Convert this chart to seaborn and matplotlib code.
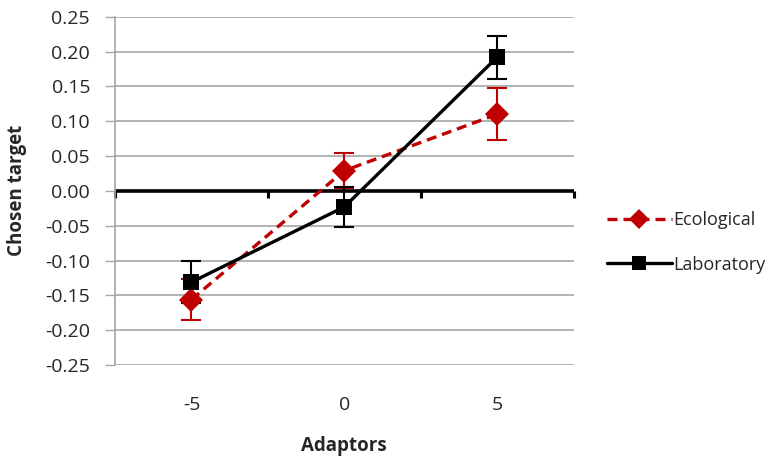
import numpy as np
import pandas as pd
import matplotlib
matplotlib.use('Agg')
import matplotlib.pyplot as plt
from matplotlib.lines import Line2D
import seaborn as sns

sns.set_style("white")
plt.rcParams['font.family'] = ['Open Sans', 'DejaVu Sans']

# values
adaptors = [-5, 0, 5]
ecological = [-0.156, 0.029, 0.110]
ecological_err = [0.030, 0.025, 0.037]
laboratory = [-0.131, -0.023, 0.192]
laboratory_err = [0.030, 0.029, 0.031]
yticks = [-0.25, -0.20, -0.15, -0.10, -0.05, 0.00, 0.05, 0.10, 0.15, 0.20, 0.25]

df = pd.DataFrame({
    'Adaptors': adaptors * 2,
    'Chosen target': ecological + laboratory,
    'group': ['Ecological'] * 3 + ['Laboratory'] * 3,
})

RED = '#C00000'
GRID = '#A6A6A6'
TXT = '#262626'
DASH = (3.0, 1.8)

fig = plt.figure(figsize=(7.84, 4.71), dpi=100)
ax = fig.add_axes([0.1467, 0.225, 0.585, 0.7395])

for y in yticks:
    if y != 0:
        ax.axhline(y, color=GRID, lw=1.2, zorder=0)
ax.axhline(0, color='black', lw=2.6, zorder=1)

# error bars first so the markers sit on top
ax.errorbar(adaptors, ecological, yerr=ecological_err, fmt='none',
            ecolor=RED, elinewidth=1.5, capsize=7, capthick=1.5, zorder=3)
ax.errorbar(adaptors, laboratory, yerr=laboratory_err, fmt='none',
            ecolor='black', elinewidth=1.5, capsize=7, capthick=1.5, zorder=3)

sns.lineplot(data=df, x='Adaptors', y='Chosen target', hue='group', style='group',
             palette={'Ecological': RED, 'Laboratory': 'black'},
             markers={'Ecological': 'D', 'Laboratory': 's'},
             dashes={'Ecological': DASH, 'Laboratory': ''},
             linewidth=2.4, markersize=12, markeredgewidth=0,
             ax=ax, zorder=4, legend=False)

ax.set_xlim(-7.5, 7.5)
ax.set_ylim(-0.25, 0.25)
ax.set_yticks(yticks)
ax.set_yticklabels([f'{v:.2f}' for v in yticks], fontsize=14, color=TXT)
ax.set_xticks(adaptors)
ax.set_xticklabels([str(a) for a in adaptors], fontsize=14, color=TXT)
ax.tick_params(axis='x', length=0, pad=22)
ax.tick_params(axis='y', direction='out', length=7, width=1, color=GRID, pad=11, left=True)

for side in ['top', 'right', 'bottom']:
    ax.spines[side].set_visible(False)
ax.spines['left'].set_color(GRID)
ax.spines['left'].set_linewidth(1.2)

# boundary ticks hanging down from the zero line
zero_ax = ax.secondary_xaxis(0.5)
zero_ax.set_xticks([-7.5, -2.5, 2.5, 7.5])
zero_ax.set_xticklabels([])
zero_ax.tick_params(direction='in', length=5, width=2.2, color='black')
for s in zero_ax.spines.values():
    s.set_visible(False)

ax.set_xlabel('Adaptors', fontsize=13.5, fontweight='bold', labelpad=16, color=TXT)
ax.set_ylabel('Chosen target', fontsize=13.5, fontweight='bold', labelpad=13, color=TXT)

handles = [
    Line2D([], [], color=RED, lw=2.4, dashes=DASH, marker='D', markersize=10,
           markeredgewidth=0),
    Line2D([], [], color='black', lw=2.4, marker='s', markersize=10, markeredgewidth=0),
]
fig.legend(handles, ['Ecological', 'Laboratory'], loc='center left',
           bbox_to_anchor=(0.774, 0.485), frameon=False, fontsize=13,
           borderpad=0, borderaxespad=0,
           labelcolor=TXT, handlelength=3.6, handletextpad=0.1, labelspacing=1.45)

plt.savefig('out.png', dpi=100)
